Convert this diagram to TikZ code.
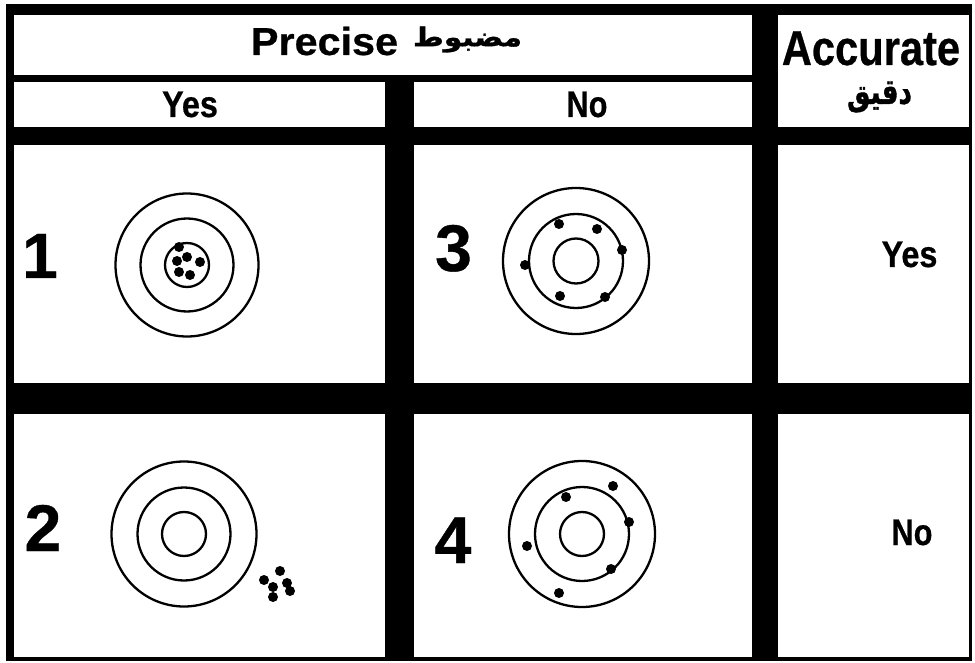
\documentclass[tikz,border=0pt]{standalone}
\usepackage{fontspec}
\setmainfont{Liberation Sans}[BoldFeatures={FakeBold=0.6}]
\newfontfamily\arabicfont[Script=Arabic,BoldFeatures={FakeBold=1.2}]{DejaVu Sans}
\TeXXeTstate=1
\newcommand{\lbl}[3]{\scalebox{#1}[1]{\fontsize{#2}{#2}\selectfont\bfseries #3}}
\tikzset{
  cell/.style={fill=white},
  ring/.style={draw=black, line width=2.3pt},
  shot/.style={fill=black},
  txt/.style={inner sep=0pt, anchor=base},
  ar/.style={inner sep=0pt, anchor=center}
}
\begin{document}
\begin{tikzpicture}[x=1pt,y=-1pt]
\useasboundingbox (0,0) rectangle (975,663);
\fill[white] (0,0) rectangle (975,663);
\fill[black] (6,4) rectangle (972,661);
% header cells
\fill[cell] (14,15) rectangle (752,75);
\fill[cell] (778,15) rectangle (969,127);
\fill[cell] (14,82) rectangle (385,127);
\fill[cell] (414,82) rectangle (752,127);
% row 1
\fill[cell] (14,145) rectangle (385,383);
\fill[cell] (414,145) rectangle (752,383);
\fill[cell] (778,145) rectangle (969,383);
% row 2
\fill[cell] (14,414) rectangle (385,657);
\fill[cell] (414,414) rectangle (752,657);
\fill[cell] (778,414) rectangle (969,657);

% header texts
\node[txt] (precise) at (324.5,55) {\lbl{1.06}{39}{Precise}};
\node[ar] (madbut) at (467.5,39.5) {\resizebox*{109pt}{26pt}{\arabicfont\bfseries\beginR مضبوط\endR}};
\node[txt] (yesh) at (190,117) {\lbl{0.875}{37}{Yes}};
\node[txt] (noh) at (587,117) {\lbl{0.83}{37}{No}};
\node[txt] (accurate) at (871,65) {\lbl{0.85}{49}{Accurate}};
\node[ar] (daqiq) at (879.5,97) {\resizebox*{65pt}{31pt}{\arabicfont\bfseries\beginR دقيق\endR}};
\node[txt] (yesr) at (909.5,267) {\lbl{0.875}{37}{Yes}};
\node[txt] (nor) at (912,545) {\lbl{0.83}{37}{No}};

% numbers
\node[txt] (n1) at (40,278) {\lbl{1}{64}{1}};
\node[txt] (n3) at (453.5,271) {\lbl{1}{66}{3}};
\node[txt] (n2) at (43,551) {\lbl{1}{66}{2}};
\node[txt] (n4) at (453,563) {\lbl{1}{66}{4}};

% target 1
\draw[ring] (187,265) circle (71.5) (187,265) circle (46.5) (187,265) circle (22);
\foreach \p in {(179,247),(187,257),(200,262),(177,261),(179,272),(190,275)}
  \fill[shot] \p circle (5);
% target 3
\draw[ring] (576,261) circle (73) (576,261) circle (47) (576,261) circle (22.5);
\foreach \p in {(559,224),(597,229),(622,250),(525,265),(560,296),(605,297)}
  \fill[shot] \p circle (5);
% target 2
\draw[ring] (184,534) circle (72.5) (184,534) circle (46.5) (184,534) circle (22);
\foreach \p in {(280,571),(264,580),(287,583),(273,587),(290,591),(273,597)}
  \fill[shot] \p circle (5);
% target 4
\draw[ring] (582,534) circle (73) (582,534) circle (47) (582,534) circle (22);
\foreach \p in {(613,486),(566,497),(629,522),(527,546),(611,569),(559,593)}
  \fill[shot] \p circle (5);
\end{tikzpicture}
\end{document}
